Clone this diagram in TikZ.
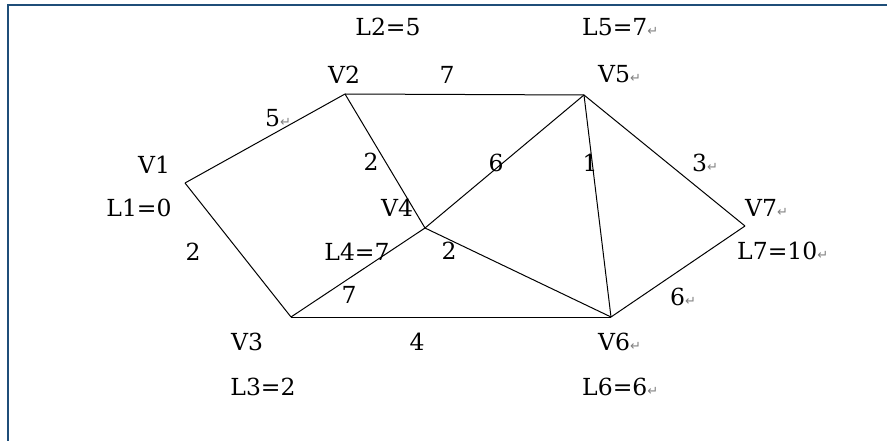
\documentclass[tikz,border=0pt]{standalone}
\usepackage{fontspec}
\usepackage{xcolor}
\setmainfont{DejaVu Serif}
\newfontfamily\markfont{DejaVu Sans}
\definecolor{frameblue}{RGB}{31,78,121}
\newcommand{\pmark}{{\markfont\fontsize{13}{13}\selectfont\color{gray}↵}}

\begin{document}
\begin{tikzpicture}[x=1pt, y=-1pt,
  lbl/.style={inner sep=0pt, font=\fontsize{23.5}{28}\selectfont},
  lblw/.style={lbl, anchor=west},
  edge/.style={draw=black, line width=1pt}
]
\useasboundingbox (0,0) rectangle (887,441);
% frame
\draw[frameblue, line width=2pt] (8,441) -- (8,5) -- (887,5);

% vertices
\coordinate (v1) at (185,183);
\coordinate (v2) at (345,94);
\coordinate (v3) at (291,317);
\coordinate (v4) at (425,228);
\coordinate (v5) at (584,95);
\coordinate (v6) at (611,317);
\coordinate (v7) at (745,226);

% edges
\draw[edge] (v1) -- (v2);
\draw[edge] (v1) -- (v3);
\draw[edge] (v2) -- (v5);
\draw[edge] (v2) -- (v4);
\draw[edge] (v4) -- (v5);
\draw[edge] (v5) -- (v6);
\draw[edge] (v5) -- (v7);
\draw[edge] (v3) -- (v4);
\draw[edge] (v4) -- (v6);
\draw[edge] (v3) -- (v6);
\draw[edge] (v6) -- (v7);

% vertex names and L values
\node[lbl] (n1) at (154,165) {V1};
\node[lbl] (l1) at (139,208) {L1=0};
\node[lbl] (n2) at (344,75) {V2};
\node[lbl] (l2) at (388,27) {L2=5};
\node[lbl] (n3) at (247,342) {V3};
\node[lbl] (l3) at (263,387) {L3=2};
\node[lbl] (n4) at (397,208) {V4};
\node[lbl] (l4) at (357,252) {L4=7};
\node[lblw] (n5) at (598,74) {V5\pmark};
\node[lblw] (l5) at (582,27) {L5=7\pmark};
\node[lblw] (n6) at (598,342) {V6\pmark};
\node[lblw] (l6) at (582,387) {L6=6\pmark};
\node[lblw] (n7) at (745,208) {V7\pmark};
\node[lblw] (l7) at (737,251) {L7=10\pmark};

% weights
\node[lblw] (w12) at (265,118) {5\pmark};
\node[lbl] (w13) at (193,252) {2};
\node[lbl] (w25) at (447,75) {7};
\node[lbl] (w24) at (371,162) {2};
\node[lbl] (w45) at (496,163) {6};
\node[lbl] (w56) at (590,163) {1};
\node[lblw] (w57) at (692,163) {3\pmark};
\node[lbl] (w34) at (349,295) {7};
\node[lbl] (w46) at (449,251) {2};
\node[lbl] (w36) at (417,342) {4};
\node[lblw] (w67) at (670,297) {6\pmark};
\end{tikzpicture}
\end{document}
